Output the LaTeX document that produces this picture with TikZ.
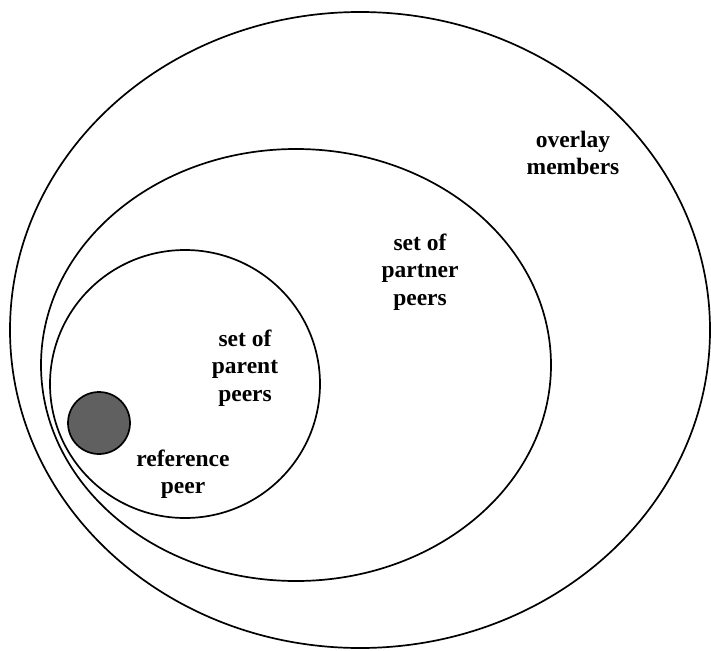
\documentclass[tikz,border=0pt]{standalone}
\usepackage{fontspec}
\setmainfont{Liberation Serif}

\definecolor{peergray}{RGB}{96,96,96}
\tikzset{
  setline/.style={draw, line width=1.7pt},
  lbl/.style={align=center, inner sep=0pt, font=\bfseries\fontsize{23.5}{27.5}\selectfont}
}

\begin{document}
\begin{tikzpicture}[x=1pt, y=-1pt]
\useasboundingbox (0,0) rectangle (711,650);
% overlay members
\draw[setline] (360,330) ellipse (350pt and 318pt);
% partner peers
\draw[setline] (296,365) ellipse (255pt and 216pt);
% parent peers
\draw[setline] (185,384) ellipse (135pt and 134pt);
% reference peer
\node[circle, setline, fill=peergray, minimum size=62pt, inner sep=0pt] (refpeer) at (99,423) {};

\node[lbl] (overlay) at (573,153) {overlay\\members};
\node[lbl] (partner) at (420,272) {set of\\partner\\peers};
\node[lbl] (parent)  at (245,368) {set of\\parent\\peers};
\node[lbl] (reflbl)  at (183,474) {reference\\peer};
\end{tikzpicture}
\end{document}
